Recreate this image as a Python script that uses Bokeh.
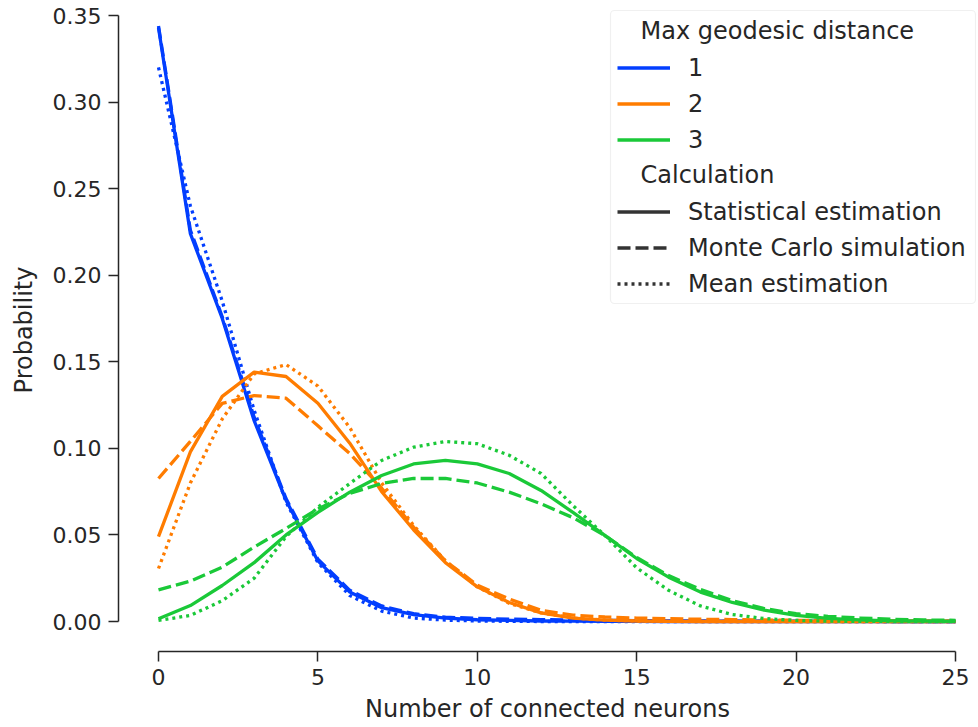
from bokeh.plotting import figure
from bokeh.models import (Range1d, FixedTicker, PrintfTickFormatter, Legend,
                          LegendItem, Label, BoxAnnotation)
from bokeh.embed import file_html
from bokeh.resources import INLINE

# ---------------- data ----------------
neurons = list(range(26))

blue_stat = [0.343, 0.224, 0.175, 0.116, 0.070, 0.035, 0.017, 0.008, 0.004, 0.002, 0.001,
             0.0006, 0.0003, 0.0002, 0.0001, 0.0001, 0.0, 0.0, 0.0, 0.0, 0.0, 0.0, 0.0, 0.0, 0.0, 0.0]
blue_mc = [0.344, 0.226, 0.176, 0.118, 0.071, 0.036, 0.018, 0.009, 0.0045, 0.0025, 0.0018,
           0.0014, 0.0011, 0.0009, 0.0007, 0.0005, 0.0004, 0.0003, 0.0002, 0.0002, 0.0001, 0.0001,
           0.0001, 0.0, 0.0, 0.0]
blue_mean = [0.320, 0.240, 0.185, 0.122, 0.069, 0.034, 0.015, 0.006, 0.002, 0.0008, 0.0003,
             0.0001, 0.0, 0.0, 0.0, 0.0, 0.0, 0.0, 0.0, 0.0, 0.0, 0.0, 0.0, 0.0, 0.0, 0.0]

orange_stat = [0.049, 0.098, 0.130, 0.144, 0.1415, 0.126, 0.103, 0.075, 0.053, 0.034, 0.020,
               0.011, 0.005, 0.002, 0.0008, 0.0003, 0.0001, 0.0, 0.0, 0.0, 0.0, 0.0, 0.0, 0.0, 0.0, 0.0]
orange_mc = [0.0826, 0.104, 0.126, 0.1305, 0.129, 0.113, 0.097, 0.077, 0.0545, 0.035, 0.021,
             0.013, 0.0065, 0.0037, 0.0026, 0.002, 0.0016, 0.0013, 0.0011, 0.0009, 0.0007, 0.0005,
             0.0004, 0.0003, 0.0002, 0.0002]
orange_mean = [0.0306, 0.080, 0.117, 0.143, 0.1484, 0.136, 0.112, 0.080, 0.0555, 0.035, 0.020,
               0.0105, 0.005, 0.002, 0.0008, 0.0003, 0.0001, 0.0, 0.0, 0.0, 0.0, 0.0, 0.0, 0.0, 0.0, 0.0]

green_stat = [0.0016, 0.0092, 0.0208, 0.034, 0.050, 0.063, 0.0747, 0.0843, 0.091, 0.093, 0.091,
              0.0855, 0.0757, 0.063, 0.0497, 0.0364, 0.0256, 0.017, 0.011, 0.0065, 0.0035, 0.0018,
              0.0009, 0.0004, 0.0002, 0.0001]
green_mc = [0.0183, 0.0233, 0.0314, 0.043, 0.0537, 0.065, 0.074, 0.0797, 0.0826, 0.0826, 0.080,
            0.0747, 0.068, 0.060, 0.0497, 0.037, 0.0265, 0.0185, 0.012, 0.0075, 0.0045, 0.003,
            0.002, 0.0013, 0.0009, 0.0007]
green_mean = [0.0006, 0.0035, 0.012, 0.025, 0.049, 0.066, 0.0797, 0.093, 0.1007, 0.104, 0.1027,
              0.096, 0.0855, 0.067, 0.0497, 0.031, 0.018, 0.009, 0.004, 0.0017, 0.0006, 0.0002,
              0.0001, 0.0, 0.0, 0.0]

distance_labels = ["1", "2", "3"]
calc_labels = ["Statistical estimation", "Monte Carlo simulation", "Mean estimation"]
x_ticks = [0, 5, 10, 15, 20, 25]
y_ticks = [0.0, 0.05, 0.10, 0.15, 0.20, 0.25, 0.30, 0.35]

# ---------------- styling / geometry ----------------
FONT = "DejaVu Sans"
TXT = "#262626"
colors = ["#023eff", "#ff7c00", "#1ac938"]
dashes = ["solid", "13 5", "3 4"]
LW = 3.3

# pixel geometry of the reference (canvas coords; Bokeh's page has no body margin)
X0_PX, X_PER_UNIT = 158.0, 31.88      # x=0 at 158 px
Y0_PX, Y_PER_UNIT = 621.0, 1731.4     # y=0 at 621 px
W, H = 978, 727
FRAME_L, FRAME_R, FRAME_T, FRAME_B = 118.0, 976.0, 8.0, 651.0


def px_x(px):
    return (px - X0_PX) / X_PER_UNIT


def px_y(py):
    return (Y0_PX - py) / Y_PER_UNIT


p = figure(width=W, height=H, output_backend="svg", toolbar_location=None,
           x_range=Range1d(px_x(FRAME_L), px_x(FRAME_R)),
           y_range=Range1d(px_y(FRAME_B), px_y(FRAME_T)),
           min_border_left=int(FRAME_L), min_border_right=int(W - FRAME_R),
           min_border_top=int(FRAME_T), min_border_bottom=int(H - FRAME_B))
p.outline_line_color = None
p.grid.visible = False
p.background_fill_color = "white"

# axes
p.xaxis.bounds = (x_ticks[0], x_ticks[-1])
p.yaxis.bounds = (y_ticks[0], y_ticks[-1])
p.xaxis.ticker = FixedTicker(ticks=x_ticks)
p.yaxis.ticker = FixedTicker(ticks=y_ticks)
p.yaxis.formatter = PrintfTickFormatter(format="%.2f")
p.xaxis.axis_label = "Number of connected neurons"
p.yaxis.axis_label = "Probability"
for ax in (p.xaxis, p.yaxis):
    ax.axis_line_color = TXT
    ax.axis_line_width = 1.5
    ax.major_tick_line_color = TXT
    ax.major_tick_line_width = 1.5
    ax.major_tick_in = 0
    ax.major_tick_out = 10
    ax.minor_tick_line_color = None
    ax.major_label_text_font = FONT
    ax.major_label_text_font_size = "22px"
    ax.major_label_text_color = TXT
    ax.axis_label_text_font = FONT
    ax.axis_label_text_font_size = "24px"
    ax.axis_label_text_font_style = "normal"
    ax.axis_label_text_color = TXT
p.xaxis.major_label_standoff = 7
p.xaxis.axis_label_standoff = 7
p.yaxis.major_label_standoff = 7
p.yaxis.axis_label_standoff = 12

series = [
    (blue_stat, blue_mc, blue_mean),
    (orange_stat, orange_mc, orange_mean),
    (green_stat, green_mc, green_mean),
]

hue_renderers = []
for color, group in zip(colors, series):
    rs = []
    for ys, dash in zip(group, dashes):
        r = p.line(neurons, ys, line_color=color, line_width=LW, line_dash=dash,
                   line_join="round")
        rs.append(r)
    hue_renderers.append(rs[0])

# legend-only renderers for the calculation styles (no drawable points)
nan_row = [float("nan")]
style_renderers = []
for dash in dashes:
    r = p.line(x=nan_row, y=nan_row, line_color="#333333", line_width=LW, line_dash=dash)
    style_renderers.append(r)

# legend frame
box = BoxAnnotation(left=px_x(610), right=px_x(975), top=px_y(10), bottom=px_y(303),
                    fill_color="white", fill_alpha=0.8, line_color="#cccccc",
                    line_width=1.2, border_radius=4)
p.add_layout(box)


def make_legend(labels, renderers, bottom_px):
    lg = Legend(items=[LegendItem(label=l, renderers=[r]) for l, r in zip(labels, renderers)],
                location=(617 - FRAME_L, FRAME_B - bottom_px),
                orientation="vertical", glyph_width=53, glyph_height=33, label_height=33,
                spacing=3, padding=0, margin=0, label_standoff=18,
                border_line_alpha=0, background_fill_alpha=0,
                label_text_font=FONT, label_text_font_size="24px", label_text_color=TXT)
    return lg


p.add_layout(make_legend(distance_labels, hue_renderers, 156))
p.add_layout(make_legend(calc_labels, style_renderers, 300))

for text, ypx in (("Max geodesic distance", 30), ("Calculation", 174)):
    p.add_layout(Label(x=px_x(640), y=px_y(ypx), text=text, text_font=FONT,
                       text_font_size="24px", text_color=TXT, text_baseline="middle",
                       text_align="left"))

open("out.html", "w").write(file_html(p, INLINE))
